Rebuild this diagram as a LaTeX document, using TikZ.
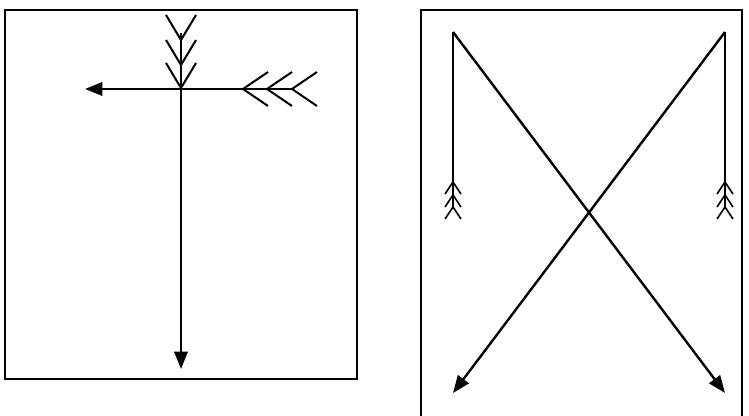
\documentclass[tikz,border=0pt]{standalone}
\usetikzlibrary{arrows.meta}
\tikzset{
  frame/.style={draw=black, line width=1.6pt},
  shaft/.style={line width=1.8pt},
  arr/.style={-{Triangle[length=13pt,width=10pt]}, line width=1.8pt},
  vane/.style={line width=1.5pt},
  vane_s/.style={line width=1.2pt},
}
\begin{document}
\begin{tikzpicture}[x=0.75pt,y=-0.75pt]
\useasboundingbox (0,0) rectangle (749,416);

%% frames
\draw[frame] (5,10) rectangle (357,379);
\draw[frame] (421,10) rectangle (742,420);

%% left panel
\coordinate (vTail) at (181,33);
\coordinate (vHead) at (181,369);
\coordinate (hTail) at (292,89);
\coordinate (hHead) at (85,89);

\draw[arr] (vTail)--(vHead);
\draw[arr] (hTail)--(hHead);
\foreach \y in {40,65,88}
  {\draw[vane] (166,\y-25)--(181,\y)--(196,\y-25);}
\foreach \x in {243,267,292}
  {\draw[vane] (\x+25,72)--(\x,89)--(\x+25,106);}

%% right panel
\coordinate (lTop) at (453,32);
\coordinate (rTop) at (725,32);
\coordinate (lBot) at (453,393);
\coordinate (rBot) at (725,393);
\coordinate (lTail) at (453,207);
\coordinate (rTail) at (725,207);

\draw[arr] (lTop)--(rBot);
\draw[arr] (rTop)--(lBot);
\draw[shaft] (lTop)--(lTail);
\draw[shaft] (rTop)--(rTail);
\foreach \x in {453,725}
  \foreach \y in {182,195,207}
    {\draw[vane_s] (\x-8,\y+12)--(\x,\y)--(\x+8,\y+12);}

\end{tikzpicture}
\end{document}
